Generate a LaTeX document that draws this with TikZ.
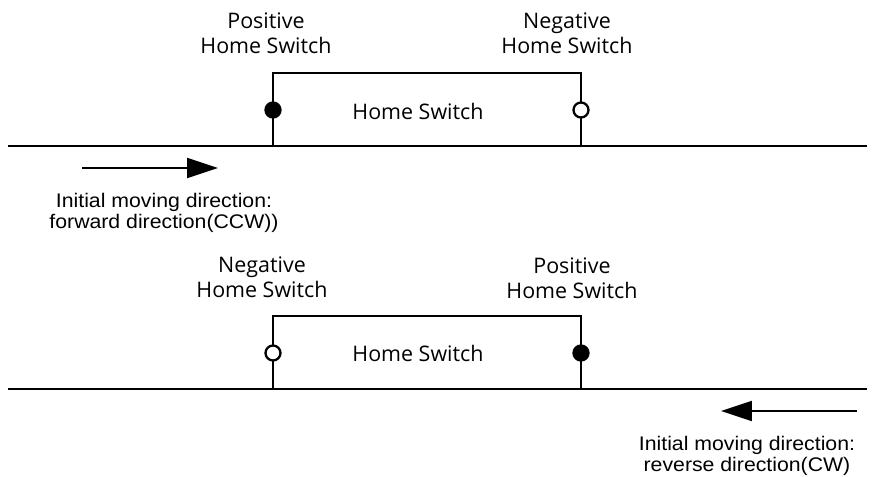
\documentclass[tikz,border=0pt]{standalone}
\usepackage{fontspec}
\setmainfont{Open Sans}
\newfontfamily\arialfont[FakeStretch=1.08]{Liberation Sans}
\usetikzlibrary{positioning, arrows.meta}

\begin{document}
\begin{tikzpicture}[x=0.02cm, y=-0.02cm,
  wire/.style={line width=1.3pt},
  contact/.style={circle, draw, line width=1.3pt, inner sep=0pt, minimum size=0.3cm},
  closed/.style={contact, fill=black},
  opened/.style={contact, fill=white},
  lbl/.style={align=center, font=\fontsize{12.2}{14.2}\selectfont},
  note/.style={align=center, font=\arialfont\fontsize{11.2}{11.6}\selectfont},
  dir/.style={-{Triangle[length=0.62cm, width=0.4cm]}, line width=1.1pt}
]
  \useasboundingbox (0,0) rectangle (877,477);

  % Upper case: forward direction
  \coordinate (railAl) at (8,146);
  \coordinate (railAr) at (867,146);
  \coordinate (swAbl) at (273,146);
  \coordinate (swAtl) at (273,73);
  \coordinate (swAtr) at (581,73);
  \coordinate (swAbr) at (581,146);
  \draw[wire] (railAl) -- (railAr);
  \draw[wire] (swAbl) -- (swAtl) -- (swAtr) -- (swAbr);
  \node[closed] (posA) at (273,110) {};
  \node[opened] (negA) at (581,110) {};
  \node[lbl] (swA) at (418,111) {Home Switch};
  \node[lbl] (posAlbl) at (266,33) {Positive\\Home Switch};
  \node[lbl] (negAlbl) at (567,33) {Negative\\Home Switch};

  \coordinate (fwdS) at (82,168);
  \coordinate (fwdE) at (218,168);
  \draw[dir] (fwdS) -- (fwdE);
  \node[note] (fwd) at (164,213) {Initial moving direction:\\forward direction(CCW))};

  % Lower case: reverse direction
  \coordinate (railBl) at (8,389);
  \coordinate (railBr) at (867,389);
  \coordinate (swBbl) at (273,389);
  \coordinate (swBtl) at (273,316);
  \coordinate (swBtr) at (581,316);
  \coordinate (swBbr) at (581,389);
  \draw[wire] (railBl) -- (railBr);
  \draw[wire] (swBbl) -- (swBtl) -- (swBtr) -- (swBbr);
  \node[opened] (negB) at (273,353) {};
  \node[closed] (posB) at (581,353) {};
  \node[lbl] (swB) at (418,353) {Home Switch};
  \node[lbl] (negBlbl) at (262,277) {Negative\\Home Switch};
  \node[lbl] (posBlbl) at (572,278) {Positive\\Home Switch};

  \coordinate (revS) at (857,411);
  \coordinate (revE) at (721,411);
  \draw[dir] (revS) -- (revE);
  \node[note] (rev) at (747,456) {Initial moving direction:\\reverse direction(CW)};
\end{tikzpicture}
\end{document}
